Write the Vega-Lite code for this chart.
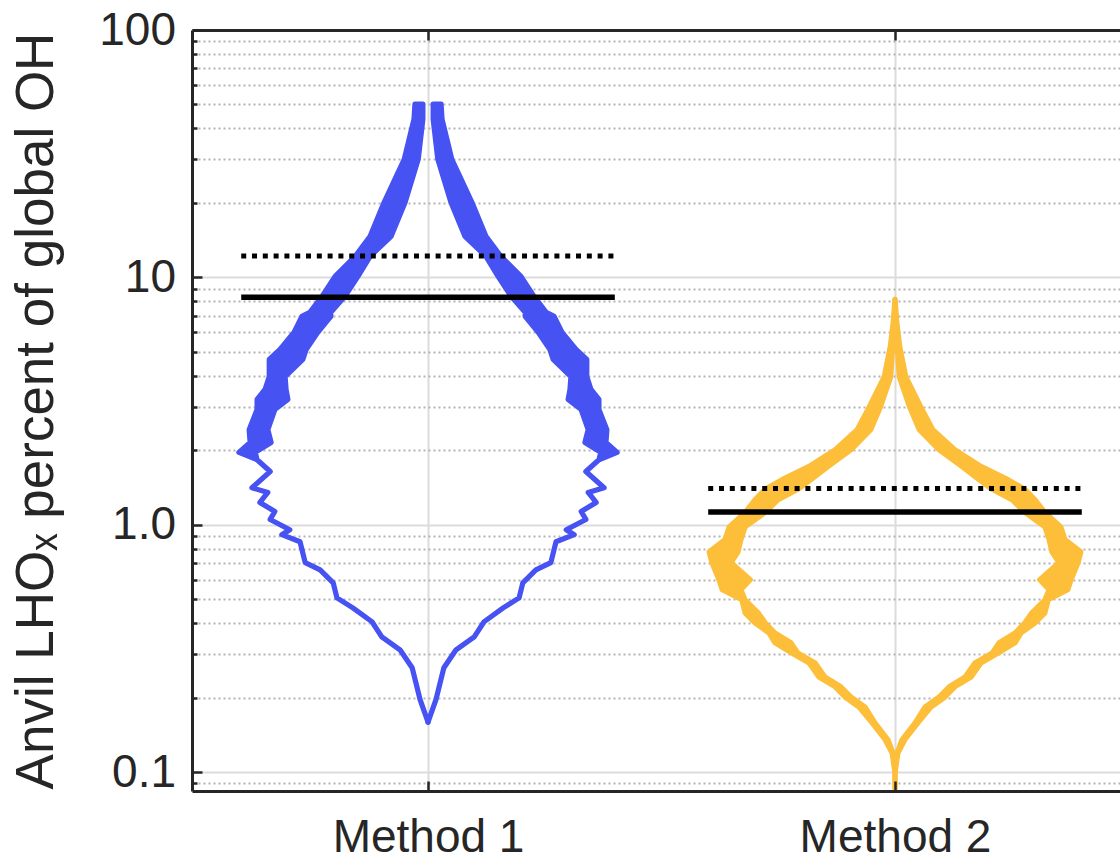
{
  "$schema": "https://vega.github.io/schema/vega-lite/v6.json",
  "width": 928,
  "height": 761,
  "autosize": {"type": "none"},
  "padding": {"left": 192, "top": 30, "right": 0, "bottom": 69},
  "background": "white",
  "resolve": {"axis": {"x": "independent", "y": "independent"}},
  "config": {
    "view": {"stroke": null},
    "font": "Liberation Sans",
    "axis": {
      "labelFont": "Liberation Sans",
      "labelFontSize": 46,
      "labelColor": "#262626",
      "labelLimit": 0,
      "titleFont": "Liberation Sans",
      "titleFontSize": 53,
      "titleFontWeight": "normal",
      "titleColor": "#262626",
      "domainColor": "#262626",
      "domainWidth": 3,
      "tickColor": "#262626",
      "tickWidth": 2.5
    }
  },
  "datasets": {
    "violin": [
      {"method": 1, "value": 50.2, "lo": 0.011, "hi": 0.028},
      {"method": 1, "value": 43.6, "lo": 0.011, "hi": 0.030},
      {"method": 1, "value": 30.0, "lo": 0.021, "hi": 0.051},
      {"method": 1, "value": 20.1, "lo": 0.049, "hi": 0.094},
      {"method": 1, "value": 14.66, "lo": 0.079, "hi": 0.124},
      {"method": 1, "value": 12.16, "lo": 0.124, "hi": 0.156},
      {"method": 1, "value": 10.09, "lo": 0.150, "hi": 0.199},
      {"method": 1, "value": 8.38, "lo": 0.178, "hi": 0.227},
      {"method": 1, "value": 7.22, "lo": 0.208, "hi": 0.253},
      {"method": 1, "value": 6.95, "lo": 0.208, "hi": 0.270},
      {"method": 1, "value": 5.99, "lo": 0.236, "hi": 0.287},
      {"method": 1, "value": 5.11, "lo": 0.261, "hi": 0.317},
      {"method": 1, "value": 4.66, "lo": 0.268, "hi": 0.340},
      {"method": 1, "value": 3.97, "lo": 0.306, "hi": 0.340},
      {"method": 1, "value": 3.52, "lo": 0.304, "hi": 0.349},
      {"method": 1, "value": 3.21, "lo": 0.300, "hi": 0.366},
      {"method": 1, "value": 2.92, "lo": 0.328, "hi": 0.366},
      {"method": 1, "value": 2.42, "lo": 0.343, "hi": 0.383},
      {"method": 1, "value": 2.15, "lo": 0.336, "hi": 0.381},
      {"method": 1, "value": 1.96, "lo": 0.370, "hi": 0.405},
      {"method": 1, "value": 1.83, "lo": 0.366, "hi": 0.366},
      {"method": 1, "value": 1.64, "lo": 0.338, "hi": 0.338},
      {"method": 1, "value": 1.41, "lo": 0.377, "hi": 0.377},
      {"method": 1, "value": 1.35, "lo": 0.343, "hi": 0.343},
      {"method": 1, "value": 1.23, "lo": 0.360, "hi": 0.360},
      {"method": 1, "value": 1.13, "lo": 0.328, "hi": 0.328},
      {"method": 1, "value": 1.05, "lo": 0.338, "hi": 0.338},
      {"method": 1, "value": 0.954, "lo": 0.296, "hi": 0.296},
      {"method": 1, "value": 0.911, "lo": 0.313, "hi": 0.313},
      {"method": 1, "value": 0.853, "lo": 0.274, "hi": 0.274},
      {"method": 1, "value": 0.702, "lo": 0.263, "hi": 0.263},
      {"method": 1, "value": 0.657, "lo": 0.231, "hi": 0.231},
      {"method": 1, "value": 0.582, "lo": 0.203, "hi": 0.203},
      {"method": 1, "value": 0.506, "lo": 0.195, "hi": 0.195},
      {"method": 1, "value": 0.461, "lo": 0.161, "hi": 0.161},
      {"method": 1, "value": 0.405, "lo": 0.120, "hi": 0.120},
      {"method": 1, "value": 0.352, "lo": 0.099, "hi": 0.099},
      {"method": 1, "value": 0.312, "lo": 0.060, "hi": 0.060},
      {"method": 1, "value": 0.264, "lo": 0.034, "hi": 0.034},
      {"method": 1, "value": 0.196, "lo": 0.017, "hi": 0.017},
      {"method": 1, "value": 0.159, "lo": 0.0, "hi": 0.0},
      {"method": 2, "value": 8.15, "lo": 0.0, "hi": 0.0},
      {"method": 2, "value": 6.57, "lo": 0.0, "hi": 0.004},
      {"method": 2, "value": 5.26, "lo": 0.005, "hi": 0.010},
      {"method": 2, "value": 3.97, "lo": 0.009, "hi": 0.023},
      {"method": 2, "value": 3.00, "lo": 0.031, "hi": 0.055},
      {"method": 2, "value": 2.42, "lo": 0.052, "hi": 0.081},
      {"method": 2, "value": 2.01, "lo": 0.094, "hi": 0.128},
      {"method": 2, "value": 1.72, "lo": 0.143, "hi": 0.184},
      {"method": 2, "value": 1.52, "lo": 0.180, "hi": 0.242},
      {"method": 2, "value": 1.39, "lo": 0.208, "hi": 0.278},
      {"method": 2, "value": 1.26, "lo": 0.251, "hi": 0.300},
      {"method": 2, "value": 1.12, "lo": 0.278, "hi": 0.321},
      {"method": 2, "value": 0.98, "lo": 0.321, "hi": 0.355},
      {"method": 2, "value": 0.870, "lo": 0.330, "hi": 0.364},
      {"method": 2, "value": 0.777, "lo": 0.336, "hi": 0.398},
      {"method": 2, "value": 0.702, "lo": 0.351, "hi": 0.392},
      {"method": 2, "value": 0.599, "lo": 0.310, "hi": 0.377},
      {"method": 2, "value": 0.546, "lo": 0.330, "hi": 0.370},
      {"method": 2, "value": 0.497, "lo": 0.321, "hi": 0.328},
      {"method": 2, "value": 0.440, "lo": 0.293, "hi": 0.321},
      {"method": 2, "value": 0.401, "lo": 0.278, "hi": 0.300},
      {"method": 2, "value": 0.365, "lo": 0.257, "hi": 0.270},
      {"method": 2, "value": 0.333, "lo": 0.223, "hi": 0.257},
      {"method": 2, "value": 0.303, "lo": 0.208, "hi": 0.221},
      {"method": 2, "value": 0.276, "lo": 0.171, "hi": 0.184},
      {"method": 2, "value": 0.242, "lo": 0.150, "hi": 0.163},
      {"method": 2, "value": 0.221, "lo": 0.116, "hi": 0.128},
      {"method": 2, "value": 0.201, "lo": 0.094, "hi": 0.107},
      {"method": 2, "value": 0.183, "lo": 0.064, "hi": 0.077},
      {"method": 2, "value": 0.158, "lo": 0.043, "hi": 0.049},
      {"method": 2, "value": 0.135, "lo": 0.015, "hi": 0.021},
      {"method": 2, "value": 0.119, "lo": 0.004, "hi": 0.006},
      {"method": 2, "value": 0.099, "lo": 0.0, "hi": 0.0},
      {"method": 2, "value": 0.0861, "lo": 0.0, "hi": 0.0}
    ],
    "stats": [
      {"method": 1, "stat": "median", "value": 8.30},
      {"method": 1, "stat": "mean", "value": 12.2},
      {"method": 2, "stat": "median", "value": 1.126},
      {"method": 2, "stat": "mean", "value": 1.40}
    ]
  },
  "layer": [
    {
      "data": {"name": "violin"},
      "transform": [
        {"calculate": "datum.method - datum.hi", "as": "x_out"},
        {"calculate": "datum.method - datum.lo", "as": "x_in"}
      ],
      "mark": {"type": "area", "orient": "horizontal", "strokeWidth": 5.2, "strokeJoin": "round", "opacity": 1},
      "encoding": {
        "x": {
          "field": "x_out", "type": "quantitative",
          "scale": {"domain": [0.4946, 2.4818], "nice": false, "zero": false},
          "axis": {
            "orient": "bottom", "values": [1, 2], "labelExpr": "'Method ' + datum.value",
            "grid": false, "ticks": true, "tickSize": -10, "labelPadding": 70,
            "labelFlush": false, "title": null, "labelBaseline": "alphabetic", "zindex": 1
          }
        },
        "x2": {"field": "x_in"},
        "y": {
          "field": "value", "type": "quantitative",
          "scale": {"type": "log", "domain": [0.0838, 100], "nice": false},
          "axis": {
            "orient": "left",
            "values": [0.1, 1, 10, 100],
            "labelExpr": "datum.value == 0.1 ? '0.1' : datum.value == 1 ? '1.0' : datum.value == 10 ? '10' : '100'",
            "labelOverlap": false,
            "labelPadding": 26.5,
            "ticks": true,
            "tickSize": -10,
            "grid": false,
            "zindex": 1,
            "title": "Anvil LHOₓ percent of global OH",
            "titleX": -140, "titleY": 380.5, "titleAngle": -90,
            "titleAlign": "center", "titleBaseline": "alphabetic"
          }
        },
        "fill": {"field": "method", "type": "nominal", "scale": {"domain": [1, 2], "range": ["#4652F1", "#FDBE3A"]}, "legend": null},
        "stroke": {"field": "method", "type": "nominal", "scale": {"domain": [1, 2], "range": ["#4652F1", "#FDBE3A"]}, "legend": null}
      }
    },
    {
      "data": {"name": "violin"},
      "transform": [
        {"calculate": "datum.method + datum.lo", "as": "x_in"},
        {"calculate": "datum.method + datum.hi", "as": "x_out"}
      ],
      "mark": {"type": "area", "orient": "horizontal", "strokeWidth": 5.2, "strokeJoin": "round", "opacity": 1},
      "encoding": {
        "x": {
          "field": "x_in", "type": "quantitative",
          "axis": {
            "orient": "top", "values": [1, 2], "labels": false, "ticks": false, "domain": false, "title": null,
            "grid": true, "gridColor": "#dcdcdc", "gridWidth": 2, "zindex": 0
          }
        },
        "x2": {"field": "x_out"},
        "y": {
          "field": "value", "type": "quantitative",
          "axis": {
            "orient": "right",
            "values": [0.09, 0.2, 0.3, 0.4, 0.5, 0.6, 0.7, 0.8, 0.9, 2, 3, 4, 5, 6, 7, 8, 9, 20, 30, 40, 50, 60, 70, 80, 90],
            "labels": false, "ticks": false, "domain": false, "title": null,
            "grid": true, "gridColor": "#b3b3b3", "gridDash": [2, 3], "gridWidth": 1.8, "zindex": 0
          }
        },
        "fill": {"field": "method", "type": "nominal", "legend": null},
        "stroke": {"field": "method", "type": "nominal", "legend": null}
      }
    },
    {
      "data": {"name": "stats"},
      "transform": [
        {"filter": "datum.stat == 'median'"},
        {"calculate": "datum.method - 0.4", "as": "x0"},
        {"calculate": "datum.method + 0.4", "as": "x1"}
      ],
      "mark": {"type": "rule", "color": "#000000", "strokeWidth": 5.5, "strokeCap": "butt"},
      "encoding": {
        "x": {
          "field": "x0", "type": "quantitative",
          "axis": {"orient": "top", "values": [1, 2], "labels": false, "grid": false, "ticks": true, "tickSize": -10, "title": null, "domain": true, "zindex": 1}
        },
        "x2": {"field": "x1"},
        "y": {
          "field": "value", "type": "quantitative",
          "axis": {
            "orient": "right", "values": [0.1, 1, 10, 100],
            "labels": false, "ticks": false, "domain": false, "title": null,
            "grid": true, "gridColor": "#dcdcdc", "gridWidth": 2, "zindex": 0
          }
        }
      }
    },
    {
      "data": {"name": "stats"},
      "transform": [
        {"filter": "datum.stat == 'mean'"},
        {"calculate": "datum.method - 0.4", "as": "x0"},
        {"calculate": "datum.method + 0.4", "as": "x1"}
      ],
      "mark": {"type": "rule", "color": "#000000", "strokeWidth": 5, "strokeCap": "butt", "strokeDash": [5, 5.8]},
      "encoding": {
        "x": {"field": "x0", "type": "quantitative", "axis": null},
        "x2": {"field": "x1"},
        "y": {
          "field": "value", "type": "quantitative",
          "axis": {
            "orient": "left",
            "values": [0.09, 0.2, 0.3, 0.4, 0.5, 0.6, 0.7, 0.8, 0.9, 2, 3, 4, 5, 6, 7, 8, 9, 20, 30, 40, 50, 60, 70, 80, 90],
            "labels": false, "ticks": true, "tickSize": -5, "domain": false, "title": null,
            "grid": false, "zindex": 1
          }
        }
      }
    }
  ]
}
